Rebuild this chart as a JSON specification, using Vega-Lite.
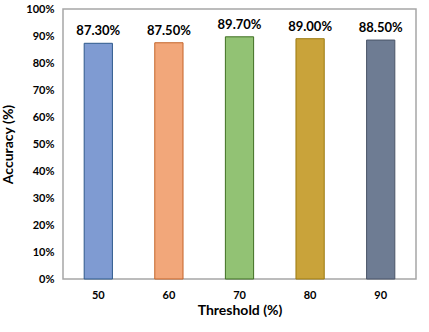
{
  "$schema": "https://vega.github.io/schema/vega-lite/v6.json",
  "width": 353,
  "height": 270,
  "autosize": {"type": "none"},
  "padding": {"left": 63, "top": 9, "right": 13, "bottom": 53},
  "background": "white",
  "config": {
    "view": {"stroke": "#A6A6A6", "strokeWidth": 1.5},
    "font": "Lato"
  },
  "data": {
    "values": [
      {"threshold": "50", "accuracy": 0.873},
      {"threshold": "60", "accuracy": 0.875},
      {"threshold": "70", "accuracy": 0.897},
      {"threshold": "80", "accuracy": 0.89},
      {"threshold": "90", "accuracy": 0.885}
    ]
  },
  "encoding": {
    "x": {
      "field": "threshold",
      "type": "nominal",
      "sort": null,
      "scale": {"paddingInner": 0.6, "paddingOuter": 0.3},
      "axis": {
        "title": "Threshold (%)",
        "titleFont": "Lato",
        "titleFontSize": 14,
        "titleFontWeight": "bold",
        "titleColor": "black",
        "titlePadding": 3,
        "labelAngle": 0,
        "labelFont": "Lato",
        "labelFontSize": 11,
        "labelFontWeight": "bold",
        "labelColor": "black",
        "labelPadding": 10,
        "ticks": false,
        "domain": false,
        "grid": false
      }
    },
    "y": {
      "field": "accuracy",
      "type": "quantitative",
      "scale": {"domain": [0, 1], "nice": false},
      "axis": {
        "title": "Accuracy (%)",
        "titleFont": "Lato",
        "titleFontSize": 14,
        "titleFontWeight": "bold",
        "titleColor": "black",
        "titlePadding": 10,
        "format": ".0%",
        "values": [0, 0.1, 0.2, 0.3, 0.4, 0.5, 0.6, 0.7, 0.8, 0.9, 1],
        "labelFont": "Lato",
        "labelFontSize": 11,
        "labelFontWeight": "bold",
        "labelColor": "black",
        "labelPadding": 9,
        "ticks": false,
        "domain": false,
        "grid": false
      }
    }
  },
  "layer": [
    {
      "mark": {"type": "bar", "strokeWidth": 1},
      "encoding": {
        "fill": {
          "field": "threshold",
          "type": "nominal",
          "sort": null,
          "scale": {"range": ["#7F9BD2", "#F2A77A", "#92C274", "#C9A33A", "#6E7C93"]},
          "legend": null
        },
        "stroke": {
          "field": "threshold",
          "type": "nominal",
          "sort": null,
          "scale": {"range": ["#2E5A8C", "#C5652A", "#3F6F22", "#9C7A10", "#4A5568"]},
          "legend": null
        }
      }
    },
    {
      "mark": {"type": "text", "baseline": "bottom", "dy": -5, "font": "Lato", "fontSize": 13, "fontWeight": "bold", "color": "black"},
      "encoding": {
        "text": {"field": "accuracy", "type": "quantitative", "format": ".2%"}
      }
    }
  ]
}
